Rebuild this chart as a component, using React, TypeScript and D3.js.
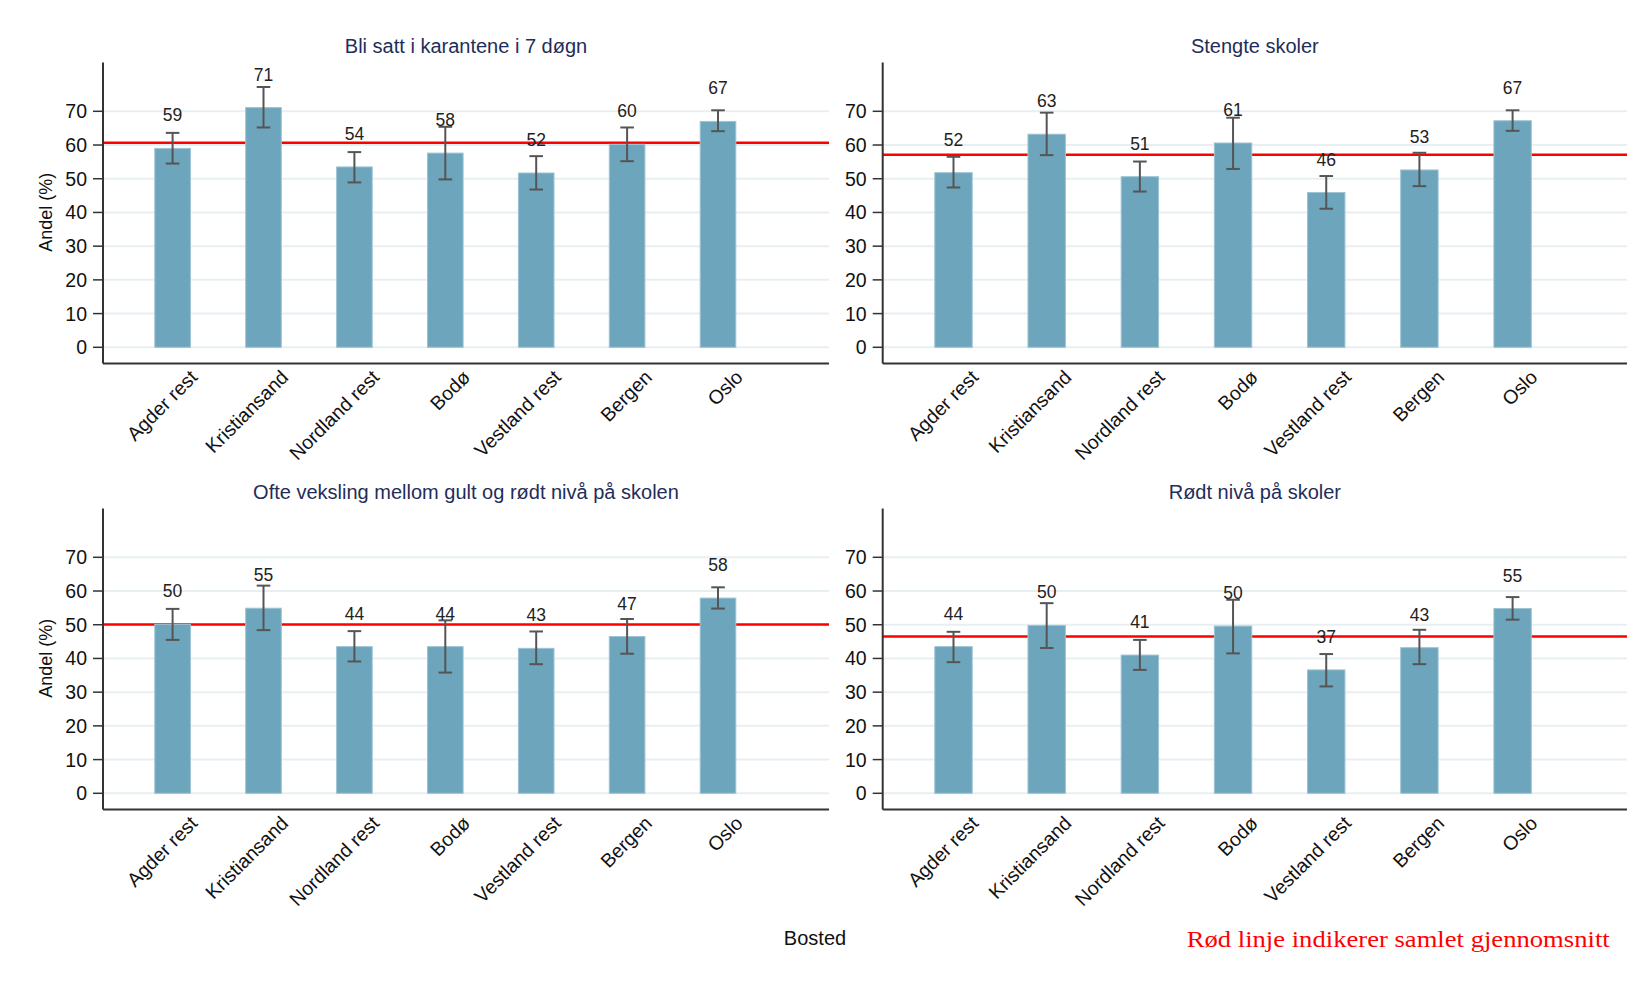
import React from "react";
import * as d3 from "d3";

const categories = ["Agder rest", "Kristiansand", "Nordland rest", "Bodø", "Vestland rest", "Bergen", "Oslo"];

const titles = [
  "Bli satt i karantene i 7 døgn",
  "Stengte skoler",
  "Ofte veksling mellom gult og rødt nivå på skolen",
  "Rødt nivå på skoler",
];

// panel 1
const karanteneMean = [59.0, 71.1, 53.5, 57.6, 51.7, 60.2, 67.0];
const karanteneLo = [54.5, 65.2, 48.9, 49.8, 46.8, 55.2, 64.1];
const karanteneHi = [63.6, 77.2, 57.9, 65.4, 56.7, 65.2, 70.3];
const karanteneAvg = 60.7;

// panel 2
const stengteMean = [51.8, 63.2, 50.6, 60.6, 45.9, 52.6, 67.2];
const stengteLo = [47.4, 57.0, 46.2, 52.9, 41.1, 47.8, 64.2];
const stengteHi = [56.5, 69.6, 55.1, 68.1, 50.8, 57.7, 70.3];
const stengteAvg = 57.1;

// panel 3
const vekslingMean = [50.1, 54.9, 43.5, 43.5, 43.0, 46.5, 57.9];
const vekslingLo = [45.5, 48.4, 39.1, 35.8, 38.3, 41.4, 54.8];
const vekslingHi = [54.7, 61.6, 48.1, 51.3, 48.0, 51.7, 61.1];
const vekslingAvg = 50.1;

// panel 4
const roedtMean = [43.5, 49.8, 41.0, 49.6, 36.6, 43.2, 54.8];
const roedtLo = [38.9, 43.1, 36.6, 41.5, 31.7, 38.3, 51.5];
const roedtHi = [47.9, 56.4, 45.5, 57.4, 41.3, 48.5, 58.2];
const roedtAvg = 46.5;

const yTicks = [0, 10, 20, 30, 40, 50, 60, 70];

const panelData = [
  { mean: karanteneMean, lo: karanteneLo, hi: karanteneHi, avg: karanteneAvg },
  { mean: stengteMean, lo: stengteLo, hi: stengteHi, avg: stengteAvg },
  { mean: vekslingMean, lo: vekslingLo, hi: vekslingHi, avg: vekslingAvg },
  { mean: roedtMean, lo: roedtLo, hi: roedtHi, avg: roedtAvg },
];

const layouts = [
  { axisX: 103, right: 829, zeroY: 347.3, c0: 172.6, c6: 718, bw: 35.6, titleY: 53, showYTitle: true },
  { axisX: 882.7, right: 1627, zeroY: 347.3, c0: 953.5, c6: 1512.6, bw: 37.4, titleY: 53, showYTitle: false },
  { axisX: 103, right: 829, zeroY: 793.3, c0: 172.6, c6: 718, bw: 35.6, titleY: 499, showYTitle: true },
  { axisX: 882.7, right: 1627, zeroY: 793.3, c0: 953.5, c6: 1512.6, bw: 37.4, titleY: 499, showYTitle: false },
];

const FONT = "Arial, 'Liberation Sans', Helvetica, sans-serif";

function Panel({ idx }: { idx: number }) {
  const L = layouts[idx];
  const D = panelData[idx];
  const y = d3.scaleLinear().domain([0, 70]).range([L.zeroY, L.zeroY - 236]);
  const x = d3.scaleLinear().domain([0, categories.length - 1]).range([L.c0, L.c6]);
  const xAxisY = y(-4.8);
  const topY = y(84.5);
  const cap = 6.8;
  return (
    <g>
      {yTicks.map((t) => (
        <line key={"g" + t} x1={L.axisX} x2={L.right} y1={y(t)} y2={y(t)} stroke="#e8eff3" strokeWidth={2} />
      ))}
      <line x1={L.axisX} x2={L.right} y1={y(D.avg)} y2={y(D.avg)} stroke="#ff0000" strokeWidth={2.5} />
      {categories.map((c, i) => (
        <rect
          key={"b" + i}
          x={x(i) - L.bw / 2}
          y={y(D.mean[i])}
          width={L.bw}
          height={y(0) - y(D.mean[i])}
          fill="#6da5bc"
          stroke="#9cc3d3"
          strokeWidth={1}
        />
      ))}
      {categories.map((c, i) => (
        <g key={"e" + i} stroke="#555555" strokeWidth={2}>
          <line x1={x(i)} x2={x(i)} y1={y(D.hi[i])} y2={y(D.lo[i])} />
          <line x1={x(i) - cap} x2={x(i) + cap} y1={y(D.hi[i])} y2={y(D.hi[i])} />
          <line x1={x(i) - cap} x2={x(i) + cap} y1={y(D.lo[i])} y2={y(D.lo[i])} />
        </g>
      ))}
      {categories.map((c, i) => (
        <text
          key={"v" + i}
          x={x(i)}
          y={y(D.mean[i]) - 27}
          textAnchor="middle"
          fontSize={17.5}
          fontFamily={FONT}
          fill="#222"
        >
          {Math.round(D.mean[i])}
        </text>
      ))}
      <line x1={L.axisX} x2={L.axisX} y1={topY} y2={xAxisY} stroke="#333" strokeWidth={2} />
      <line x1={L.axisX} x2={L.right} y1={xAxisY} y2={xAxisY} stroke="#333" strokeWidth={2} />
      {yTicks.map((t) => (
        <g key={"t" + t}>
          <line x1={L.axisX - 10} x2={L.axisX} y1={y(t)} y2={y(t)} stroke="#333" strokeWidth={1.5} />
          <text x={L.axisX - 16} y={y(t) + 7} textAnchor="end" fontSize={19.5} fontFamily={FONT} fill="#111">
            {t}
          </text>
        </g>
      ))}
      {categories.map((c, i) => (
        <text
          key={"x" + i}
          transform={`translate(${x(i) + 26},${xAxisY + 15}) rotate(-45)`}
          textAnchor="end"
          fontSize={19.5}
          fontFamily={FONT}
          fill="#111"
        >
          {c}
        </text>
      ))}
      <text
        x={(L.axisX + L.right) / 2}
        y={L.titleY}
        textAnchor="middle"
        fontSize={20}
        fontFamily={FONT}
        fill="#1f2d5a"
      >
        {titles[idx]}
      </text>
      {L.showYTitle && (
        <text
          transform={`translate(52,${(y(0) + y(70)) / 2 - 17}) rotate(-90)`}
          textAnchor="middle"
          fontSize={18}
          fontFamily={FONT}
          fill="#111"
        >
          Andel (%)
        </text>
      )}
    </g>
  );
}

export default function App() {
  return (
    <svg width={1634} height={987} style={{ position: "absolute", left: 0, top: 0, background: "#fff" }}>
      <rect x={0} y={0} width={1634} height={987} fill="#fff" />
      {[0, 1, 2, 3].map((i) => (
        <Panel key={i} idx={i} />
      ))}
      <text x={815} y={945} textAnchor="middle" fontSize={20} fontFamily={FONT} fill="#111">
        Bosted
      </text>
      <text
        x={1186.7}
        y={947}
        fontSize={23}
        fontFamily="'Times New Roman', 'Liberation Serif', serif"
        fill="#ff0000"
        textLength={423}
        lengthAdjust="spacingAndGlyphs"
      >
        Rød linje indikerer samlet gjennomsnitt
      </text>
    </svg>
  );
}
